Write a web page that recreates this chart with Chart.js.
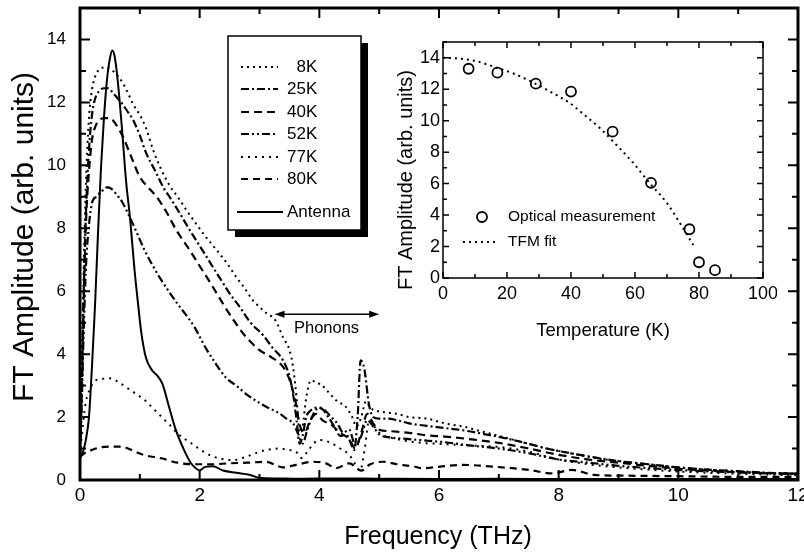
<!DOCTYPE html>
<html>
<head>
<meta charset="utf-8">
<script src="https://cdn.jsdelivr.net/npm/chart.js@4.4.0/dist/chart.umd.min.js"></script>
<style>
  html, body { margin: 0; padding: 0; background: #fff; }
  #wrap { position: relative; width: 804px; height: 553px; }
  #mainBox { position: absolute; left: 0; top: 0; width: 804px; height: 553px; }
  #insetBox { position: absolute; left: 392px; top: 30px; width: 385px; height: 320px; }
</style>
</head>
<body>
<div id="wrap">
  <div id="mainBox"><canvas id="mainChart"></canvas></div>
  <div id="insetBox"><canvas id="insetChart"></canvas></div>
</div>
<script>
// ---- main panel: FT amplitude spectra ----
var seriesLabels = ['\u20078K', '25K', '40K', '52K', '77K', '80K', 'Antenna'];

var freq8K = [0, 0.03, 0.06, 0.1, 0.15, 0.2, 0.25, 0.3, 0.37, 0.45, 0.55, 0.65, 0.72, 0.8, 0.9, 1.0, 1.1, 1.22, 1.35, 1.5,
  1.65, 1.78, 1.92, 2.06, 2.2, 2.33, 2.47, 2.61, 2.75, 2.89, 3.0, 3.11, 3.2, 3.28, 3.39, 3.5, 3.56, 3.62, 3.67, 3.72,
  3.78, 3.86, 3.95, 4.05, 4.17, 4.3, 4.44, 4.55, 4.62, 4.7, 4.78, 4.85, 4.95, 5.1, 5.3, 5.5, 5.8, 6.1, 6.4, 6.7,
  7.0, 7.4, 7.8, 8.2, 8.6, 9.0, 9.5, 10, 10.5, 11, 11.5, 12];
var amp8K = [0.8, 3.5, 6.5, 9.5, 11.5, 12.4, 12.8, 13.0, 13.1, 13.1, 13.0, 12.8, 12.6, 12.3, 11.9, 11.6, 11.2, 10.5, 9.9, 9.35,
  8.95, 8.57, 8.2, 7.83, 7.5, 7.2, 6.85, 6.45, 6.1, 5.71, 5.5, 5.31, 5.2, 5.03, 4.55, 4.13, 3.6, 2.6, 1.5, 1.7,
  2.6, 3.17, 3.1, 3.0, 2.75, 2.5, 2.33, 2.0, 1.7, 2.0, 2.5, 2.3, 2.2, 2.15, 2.1, 2.0, 1.95, 1.8, 1.7, 1.55,
  1.4, 1.2, 1.0, 0.85, 0.7, 0.6, 0.5, 0.4, 0.33, 0.27, 0.22, 0.2];

var freq25K = [0, 0.03, 0.06, 0.1, 0.15, 0.2, 0.25, 0.33, 0.4, 0.47, 0.55, 0.62, 0.69, 0.78, 0.89, 1.0, 1.11, 1.25, 1.39, 1.53,
  1.67, 1.8, 1.94, 2.08, 2.22, 2.36, 2.5, 2.67, 2.85, 3.06, 3.22, 3.39, 3.5, 3.56, 3.62, 3.67, 3.72, 3.78, 3.85, 3.95,
  4.05, 4.15, 4.25, 4.35, 4.45, 4.52, 4.58, 4.64, 4.69, 4.75, 4.83, 4.9, 5.0, 5.15, 5.3, 5.5, 5.8, 6.1, 6.4, 6.7,
  7.0, 7.4, 7.8, 8.2, 8.6, 9.0, 9.5, 10, 10.5, 11, 11.5, 12];
var amp25K = [0.8, 3.0, 5.8, 8.5, 10.5, 11.6, 12.1, 12.38, 12.45, 12.45, 12.3, 12.15, 12.0, 11.75, 11.43, 10.95, 10.37, 9.85, 9.31, 8.9,
  8.47, 8.05, 7.62, 7.2, 6.77, 6.35, 5.93, 5.5, 5.0, 4.6, 4.2, 3.81, 3.3, 2.75, 1.9, 1.15, 1.4, 2.0, 2.2, 2.3,
  2.25, 2.0, 1.7, 1.4, 1.45, 1.2, 0.95, 2.0, 3.8, 3.55, 2.4, 2.0, 1.95, 1.95, 1.9, 1.8, 1.72, 1.65, 1.58, 1.48,
  1.37, 1.2, 1.0, 0.85, 0.72, 0.6, 0.5, 0.4, 0.33, 0.28, 0.23, 0.2];

var freq40K = [0, 0.03, 0.06, 0.1, 0.15, 0.2, 0.25, 0.33, 0.42, 0.5, 0.6, 0.72, 0.85, 1.0, 1.14, 1.28, 1.45, 1.61, 1.8, 2.0,
  2.2, 2.39, 2.56, 2.75, 3.0, 3.2, 3.39, 3.5, 3.6, 3.68, 3.75, 3.85, 3.95, 4.05, 4.2, 4.35, 4.5, 4.6, 4.7, 4.8,
  4.9, 5.0, 5.2, 5.5, 5.8, 6.1, 6.5, 7, 7.5, 8, 8.5, 9, 9.5, 10, 11, 12];
var amp40K = [0.8, 2.8, 5.5, 8.2, 9.8, 10.8, 11.2, 11.45, 11.5, 11.5, 11.3, 10.9, 10.3, 9.63, 9.3, 9.0, 8.5, 7.94, 7.4, 6.8,
  6.2, 5.6, 5.1, 4.6, 4.13, 3.9, 3.6, 3.2, 2.5, 1.7, 1.5, 1.9, 2.1, 1.9, 1.75, 1.5, 1.3, 1.0, 1.5, 2.1,
  1.8, 1.6, 1.55, 1.5, 1.42, 1.38, 1.3, 1.18, 1.0, 0.8, 0.65, 0.55, 0.45, 0.36, 0.25, 0.2];

var freq52K = [0, 0.03, 0.06, 0.1, 0.15, 0.2, 0.27, 0.35, 0.45, 0.52, 0.62, 0.7, 0.8, 0.94, 1.08, 1.22, 1.36, 1.5, 1.63, 1.77,
  1.91, 2.1, 2.25, 2.44, 2.61, 2.8, 3.0, 3.11, 3.33, 3.45, 3.56, 3.65, 3.72, 3.8, 3.9, 4.0, 4.1, 4.2, 4.3, 4.4,
  4.5, 4.6, 4.7, 4.8, 4.9, 5.0, 5.2, 5.5, 5.8, 6.1, 6.5, 7, 7.5, 8, 8.5, 9, 9.5, 10, 11, 12];
var amp52K = [0.8, 2.5, 4.6, 6.8, 8.1, 8.8, 9.0, 9.15, 9.3, 9.26, 9.05, 8.85, 8.48, 7.9, 7.3, 6.8, 6.35, 5.95, 5.6, 5.25,
  4.87, 4.2, 3.75, 3.25, 3.0, 2.7, 2.45, 2.33, 2.12, 1.95, 1.8, 1.45, 1.16, 1.6, 2.1, 2.3, 2.2, 2.0, 1.8, 1.5,
  1.6, 1.1, 1.4, 1.9, 1.7, 1.45, 1.35, 1.3, 1.25, 1.2, 1.1, 1.0, 0.85, 0.65, 0.55, 0.45, 0.38, 0.32, 0.24, 0.18];

var freq77K = [0, 0.05, 0.1, 0.17, 0.25, 0.4, 0.52, 0.65, 0.8, 0.95, 1.08, 1.22, 1.36, 1.5, 1.63, 1.77, 1.91, 2.05, 2.22, 2.4,
  2.56, 2.75, 2.89, 3.1, 3.33, 3.5, 3.61, 3.7, 3.8, 3.9, 4.0, 4.17, 4.35, 4.5, 4.6, 4.68, 4.76, 4.83, 4.92, 5.0,
  5.3, 5.6, 6, 6.5, 7, 7.5, 8, 8.5, 9, 9.5, 10, 11, 12];
var amp77K = [0.8, 1.8, 2.5, 2.9, 3.15, 3.22, 3.23, 3.1, 2.91, 2.72, 2.54, 2.28, 2.01, 1.75, 1.48, 1.28, 1.1, 0.92, 0.75, 0.66,
  0.63, 0.72, 0.82, 0.95, 1.0, 0.95, 0.9, 0.7, 0.9, 1.15, 1.27, 1.2, 1.0, 0.8, 0.5, 0.3, 1.0, 1.9, 1.7, 1.5,
  1.3, 1.2, 1.15, 1.1, 1.05, 0.9, 0.65, 0.5, 0.4, 0.33, 0.27, 0.2, 0.15];

var freq80K = [0, 0.1, 0.19, 0.3, 0.47, 0.69, 0.9, 1.08, 1.36, 1.63, 1.9, 2.2, 2.5, 2.8, 3.11, 3.39, 3.61, 3.89, 4.11, 4.28,
  4.5, 4.7, 4.85, 5.06, 5.3, 5.6, 5.72, 6.0, 6.39, 6.94, 7.5, 7.89, 8.22, 8.6, 9, 10, 11, 12];
var amp80K = [0.74, 0.88, 0.95, 1.02, 1.06, 1.06, 0.92, 0.79, 0.69, 0.55, 0.5, 0.5, 0.53, 0.55, 0.58, 0.4, 0.48, 0.58, 0.53, 0.38,
  0.53, 0.3, 0.5, 0.58, 0.5, 0.42, 0.37, 0.42, 0.48, 0.42, 0.32, 0.21, 0.32, 0.16, 0.14, 0.12, 0.1, 0.1];

var freqAnt = [0, 0.05, 0.1, 0.15, 0.2, 0.25, 0.3, 0.35, 0.4, 0.45, 0.5, 0.54, 0.58, 0.63, 0.7, 0.77, 0.84, 0.91, 0.97, 1.02,
  1.1, 1.2, 1.3, 1.38, 1.47, 1.6, 1.74, 1.85, 1.93, 2.0, 2.08, 2.22, 2.39, 2.61, 2.83, 3.0, 3.3, 3.7, 4.2, 5,
  6, 7, 8, 9, 10, 11, 12];
var ampAnt = [0.7, 0.9, 1.3, 2.0, 3.6, 5.5, 7.8, 9.9, 11.5, 12.7, 13.4, 13.65, 13.45, 12.7, 11.2, 9.5, 8.25, 6.7, 5.6, 4.75,
  3.9, 3.5, 3.3, 3.05, 2.45, 1.6, 0.95, 0.55, 0.38, 0.3, 0.41, 0.44, 0.3, 0.23, 0.17, 0.07, 0.05, 0.04, 0.05, 0.04,
  0.03, 0.04, 0.03, 0.03, 0.03, 0.03, 0.03];

// ---- inset: peak amplitude vs temperature ----
var tempMeas = [8, 17, 29, 40, 53, 65, 77, 80, 85];
var ampMeas = [13.3, 13.05, 12.35, 11.85, 9.3, 6.05, 3.1, 1.0, 0.5];
var tempFit = [0, 5, 10, 17, 22, 28, 33, 39, 44, 49, 54, 59.5, 64.5, 70, 74, 78.2];
var ampFit = [14.0, 13.95, 13.8, 13.35, 13.0, 12.44, 11.9, 11.2, 10.4, 9.53, 8.5, 7.3, 6.05, 4.76, 3.5, 2.1];

var FONT = '"Liberation Sans", Arial, Helvetica, sans-serif';

function pairs(xs, ys) {
    return xs.map(function (v, i) { return { x: v, y: ys[i] }; });
}

function isMajor(v, step) {
    return Math.abs(v / step - Math.round(v / step)) < 1e-6;
}

// inward ticks on all four sides plus the frame
var frameTicks = {
    id: 'frameTicks',
    afterDraw: function (chart, args, o) {
        var ctx = chart.ctx, a = chart.chartArea, x = chart.scales.x, y = chart.scales.y, v, p, len;
        ctx.save();
        ctx.strokeStyle = '#000';
        ctx.lineWidth = o.tickWidth;
        ctx.beginPath();
        for (v = x.min; v <= x.max + 1e-9; v += o.xMinor) {
            p = x.getPixelForValue(v);
            len = isMajor(v, o.xMajor) ? o.major : o.minor;
            ctx.moveTo(p, a.bottom); ctx.lineTo(p, a.bottom - len);
            ctx.moveTo(p, a.top); ctx.lineTo(p, a.top + len);
        }
        for (v = y.min; v <= y.max + 1e-9; v += o.yMinor) {
            p = y.getPixelForValue(v);
            len = isMajor(v, o.yMajor) ? o.major : o.minor;
            ctx.moveTo(a.left, p); ctx.lineTo(a.left + len, p);
            ctx.moveTo(a.right, p); ctx.lineTo(a.right - len, p);
        }
        ctx.stroke();
        ctx.lineWidth = o.frameWidth;
        ctx.strokeRect(a.left, a.top, a.right - a.left, a.bottom - a.top);
        ctx.restore();
    }
};

// free text (axis titles, notes)
var texts = {
    id: 'texts',
    afterDraw: function (chart, args, o) {
        var ctx = chart.ctx;
        ctx.save();
        ctx.fillStyle = '#000';
        ctx.textAlign = 'center';
        ctx.textBaseline = 'middle';
        o.items.forEach(function (t) {
            ctx.save();
            ctx.font = t.size + 'px ' + FONT;
            ctx.translate(t.x, t.y);
            if (t.rotate) ctx.rotate(t.rotate);
            ctx.fillText(t.text, 0, 0);
            ctx.restore();
        });
        ctx.restore();
    }
};

// boxed legend with drop shadow, built from the datasets
var boxLegend = {
    id: 'boxLegend',
    afterDraw: function (chart, args, o) {
        var ctx = chart.ctx;
        ctx.save();
        ctx.fillStyle = '#000';
        ctx.fillRect(o.left + o.shadow, o.top + o.shadow, o.width, o.height);
        ctx.fillStyle = '#fff';
        ctx.fillRect(o.left, o.top, o.width, o.height);
        ctx.strokeStyle = '#000';
        ctx.lineWidth = 1.5;
        ctx.strokeRect(o.left, o.top, o.width, o.height);
        ctx.font = o.size + 'px ' + FONT;
        ctx.textBaseline = 'middle';
        ctx.fillStyle = '#000';
        chart.data.datasets.forEach(function (ds, i) {
            var yy = o.rows[i];
            var solid = !ds.borderDash || !ds.borderDash.length;
            ctx.setLineDash(ds.borderDash || []);
            ctx.lineWidth = ds.borderWidth;
            ctx.beginPath();
            ctx.moveTo(solid ? o.lineX0 - 4 : o.lineX0, yy);
            ctx.lineTo(solid ? o.lineX1 + 5 : o.lineX1, yy);
            ctx.stroke();
            ctx.setLineDash([]);
            ctx.fillText(ds.label, o.textX, yy);
        });
        ctx.restore();
    }
};

// "Phonons" double arrow, placed in data units
var phononArrow = {
    id: 'phononArrow',
    afterDraw: function (chart, args, o) {
        var ctx = chart.ctx, x = chart.scales.x, y = chart.scales.y;
        var x0 = x.getPixelForValue(o.from), x1 = x.getPixelForValue(o.to), yy = y.getPixelForValue(o.at);
        ctx.save();
        ctx.strokeStyle = '#000';
        ctx.fillStyle = '#000';
        ctx.lineWidth = 1.5;
        ctx.beginPath();
        ctx.moveTo(x0 + 6, yy); ctx.lineTo(x1 - 6, yy);
        ctx.stroke();
        ctx.beginPath();
        ctx.moveTo(x0, yy); ctx.lineTo(x0 + 10, yy - 3.5); ctx.lineTo(x0 + 10, yy + 3.5); ctx.closePath();
        ctx.moveTo(x1, yy); ctx.lineTo(x1 - 10, yy - 3.5); ctx.lineTo(x1 - 10, yy + 3.5); ctx.closePath();
        ctx.fill();
        ctx.font = '16.5px ' + FONT;
        ctx.textAlign = 'center';
        ctx.textBaseline = 'middle';
        ctx.fillText(o.text, x.getPixelForValue(o.textAt), y.getPixelForValue(o.textY));
        ctx.restore();
    }
};

// inset legend: open circle and dotted line
var insetLegend = {
    id: 'insetLegend',
    afterDraw: function (chart, args, o) {
        var ctx = chart.ctx;
        ctx.save();
        ctx.strokeStyle = '#000';
        ctx.fillStyle = '#000';
        ctx.lineWidth = 1.8;
        ctx.beginPath();
        ctx.arc(o.symX, o.row1, 5, 0, Math.PI * 2);
        ctx.stroke();
        ctx.setLineDash([2, 4]);
        ctx.lineWidth = 2;
        ctx.beginPath();
        ctx.moveTo(o.lineX0, o.row2); ctx.lineTo(o.lineX1, o.row2);
        ctx.stroke();
        ctx.setLineDash([]);
        ctx.font = '15.5px ' + FONT;
        ctx.textBaseline = 'middle';
        ctx.fillText(chart.data.datasets[0].label, o.textX, o.row1);
        ctx.fillText(chart.data.datasets[1].label, o.textX, o.row2);
        ctx.restore();
    }
};

function curve(label, xs, ys, dash, width) {
    return {
        label: label,
        data: pairs(xs, ys),
        borderColor: '#000',
        borderWidth: width,
        borderDash: dash,
        borderCapStyle: 'butt',
        pointRadius: 0,
        fill: false,
        cubicInterpolationMode: 'monotone'
    };
}

var mainChart = new Chart(document.getElementById('mainChart').getContext('2d'), {
    type: 'line',
    data: {
        datasets: [
            curve(seriesLabels[0], freq8K, amp8K, [2, 4], 2),
            curve(seriesLabels[1], freq25K, amp25K, [8, 3, 2, 3], 2.2),
            curve(seriesLabels[2], freq40K, amp40K, [8, 5], 2.2),
            curve(seriesLabels[3], freq52K, amp52K, [8, 3, 2, 3, 2, 3], 2.2),
            curve(seriesLabels[4], freq77K, amp77K, [2, 5], 2),
            curve(seriesLabels[5], freq80K, amp80K, [7, 5], 2.2),
            curve(seriesLabels[6], freqAnt, ampAnt, [], 2)
        ]
    },
    options: {
        responsive: true,
        maintainAspectRatio: false,
        animation: false,
        events: [],
        layout: { padding: { left: 0, top: 8, right: 6, bottom: 0 } },
        scales: {
            x: {
                type: 'linear', min: 0, max: 12,
                afterFit: function (s) { s.height = 73; s.paddingLeft = 0; s.paddingRight = 0; },
                grid: { display: false, drawTicks: false },
                border: { display: false },
                ticks: { stepSize: 2, padding: 4, color: '#000', maxRotation: 0, autoSkip: false,
                         font: { family: FONT, size: 19 } }
            },
            y: {
                type: 'linear', min: 0, max: 15,
                afterFit: function (s) { s.width = 80; s.paddingTop = 0; s.paddingBottom = 0; },
                grid: { display: false, drawTicks: false },
                border: { display: false },
                ticks: { stepSize: 2, includeBounds: false, padding: 14, color: '#000',
                         font: { family: FONT, size: 17 } }
            }
        },
        plugins: {
            legend: { display: false },
            tooltip: { enabled: false },
            frameTicks: { xMajor: 2, xMinor: 1, yMajor: 2, yMinor: 1, major: 10, minor: 6, tickWidth: 2, frameWidth: 3 },
            texts: { items: [
                { text: 'Frequency (THz)', x: 438, y: 537, size: 25 },
                { text: 'FT Amplitude (arb. units)', x: 25, y: 237, size: 30, rotate: -Math.PI / 2 }
            ] },
            boxLegend: { left: 228, top: 36, width: 133, height: 194, shadow: 7, size: 17,
                         lineX0: 241, lineX1: 278, textX: 287, rows: [67, 89, 112, 134, 157, 179, 212] },
            phononArrow: { from: 3.25, to: 5.0, at: 5.27, text: 'Phonons', textAt: 4.12, textY: 4.82 }
        }
    },
    plugins: [frameTicks, texts, boxLegend, phononArrow]
});

var insetChart = new Chart(document.getElementById('insetChart').getContext('2d'), {
    type: 'scatter',
    data: {
        datasets: [
            {
                label: 'Optical measurement',
                data: pairs(tempMeas, ampMeas),
                showLine: false,
                pointStyle: 'circle',
                pointRadius: 5,
                pointBorderWidth: 1.8,
                pointBorderColor: '#000',
                pointBackgroundColor: 'rgba(255,255,255,0)'
            },
            {
                label: 'TFM fit',
                data: pairs(tempFit, ampFit),
                showLine: true,
                borderColor: '#000',
                borderWidth: 2,
                borderDash: [2, 4],
                borderCapStyle: 'butt',
                pointRadius: 0,
                cubicInterpolationMode: 'monotone'
            }
        ]
    },
    options: {
        responsive: true,
        maintainAspectRatio: false,
        animation: false,
        events: [],
        layout: { padding: { left: 0, top: 12, right: 14, bottom: 0 } },
        scales: {
            x: {
                type: 'linear', min: 0, max: 100,
                afterFit: function (s) { s.height = 72; s.paddingLeft = 0; s.paddingRight = 0; },
                grid: { display: false, drawTicks: false },
                border: { display: false },
                ticks: { stepSize: 20, padding: 5, color: '#000', maxRotation: 0, autoSkip: false,
                         font: { family: FONT, size: 18 } }
            },
            y: {
                type: 'linear', min: 0, max: 15,
                afterFit: function (s) { s.width = 51; s.paddingTop = 0; s.paddingBottom = 0; },
                grid: { display: false, drawTicks: false },
                border: { display: false },
                ticks: { stepSize: 2, includeBounds: false, padding: 3, color: '#000',
                         font: { family: FONT, size: 18 } }
            }
        },
        plugins: {
            legend: { display: false },
            tooltip: { enabled: false },
            frameTicks: { xMajor: 20, xMinor: 10, yMajor: 2, yMinor: 1, major: 6, minor: 4, tickWidth: 1.5, frameWidth: 1.5 },
            texts: { items: [
                { text: 'Temperature (K)', x: 211, y: 301, size: 18.5 },
                { text: 'FT Amplitude (arb. units)', x: 14, y: 150, size: 20, rotate: -Math.PI / 2 }
            ] },
            insetLegend: { symX: 90, row1: 187, row2: 212, lineX0: 71, lineX1: 105, textX: 116 }
        }
    },
    plugins: [frameTicks, texts, insetLegend]
});
</script>
</body>
</html>
